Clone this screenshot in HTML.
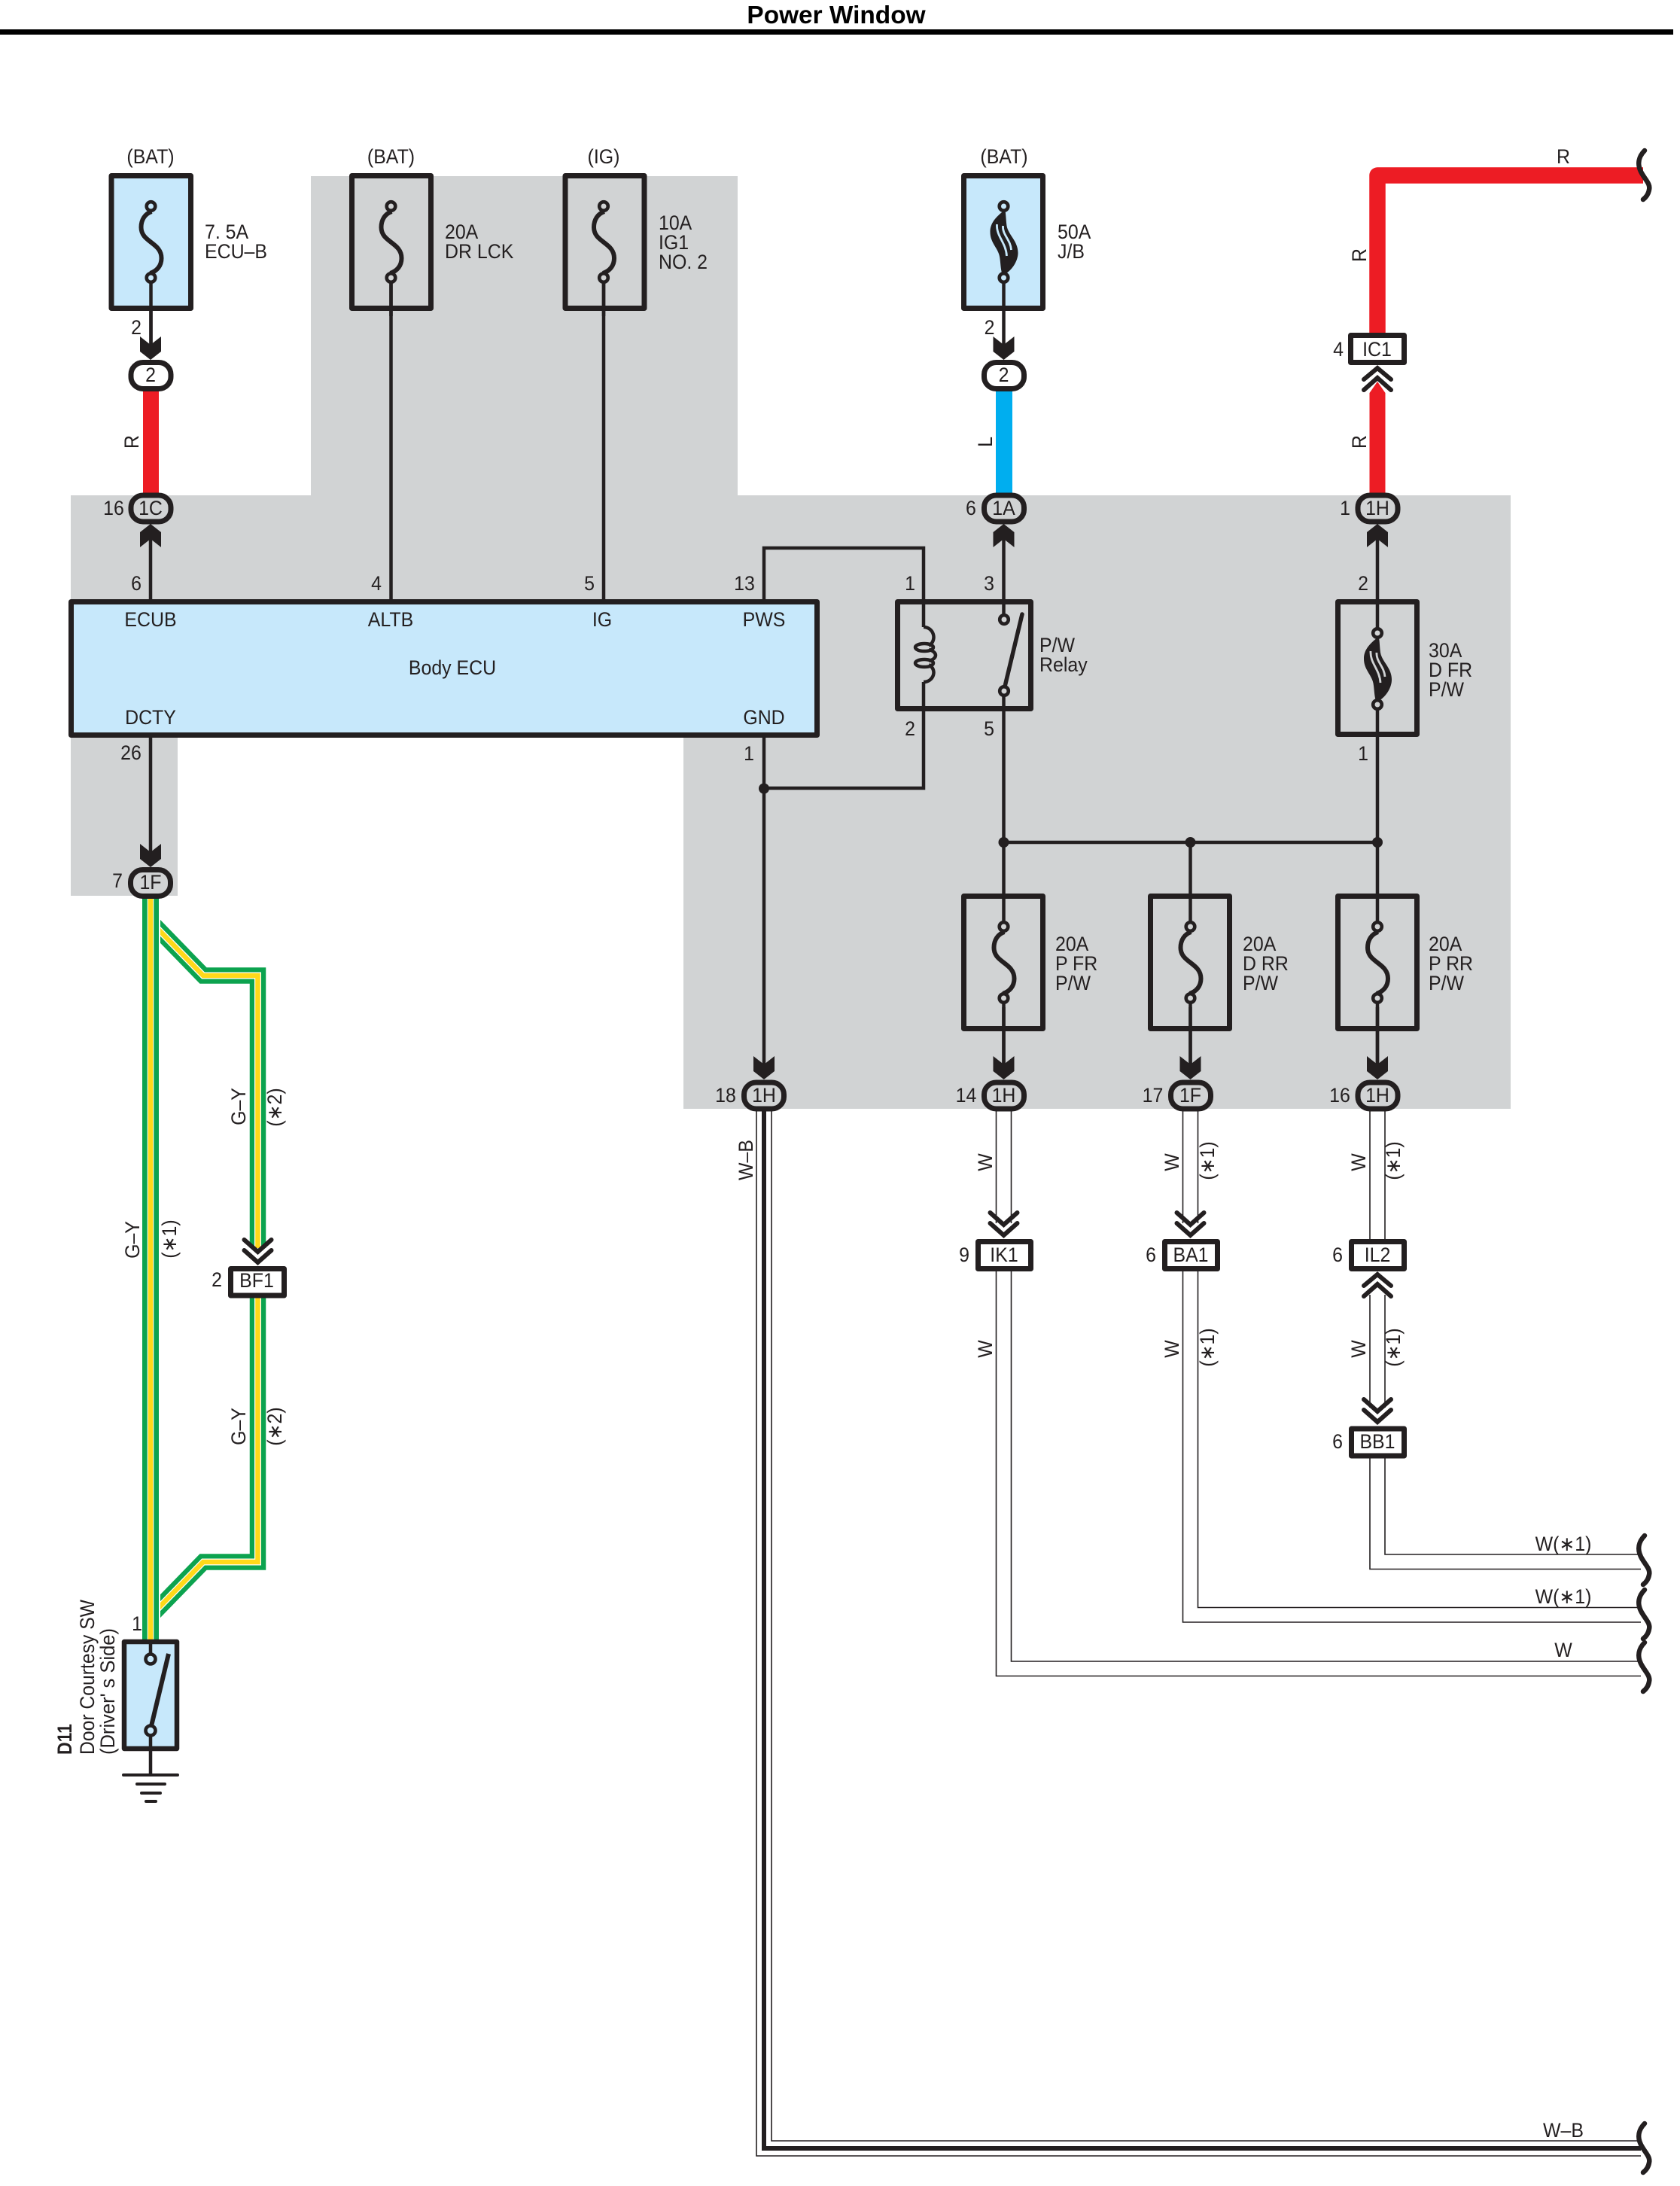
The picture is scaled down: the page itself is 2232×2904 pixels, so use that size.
<!DOCTYPE html>
<html><head><meta charset="utf-8"><title>Power Window</title>
<style>
html,body{margin:0;padding:0;background:#fff}
svg{display:block}
text{font-family:"Liberation Sans",sans-serif;font-size:26.5px;fill:#231f20;transform-box:fill-box;transform-origin:center;transform:scaleX(.94)}
text.s{transform-origin:left center}
text.n{transform:none}
.m{text-anchor:middle}
.w{fill:none;stroke:#231f20;stroke-width:4.5}
.t{fill:none;stroke:#231f20;stroke-width:1.6}
.b{stroke:#231f20;stroke-width:7;stroke-linejoin:round}
</style></head><body>
<svg xmlns="http://www.w3.org/2000/svg" width="2232" height="2904" viewBox="0 0 2232 2904">
<defs>
<g id="fuse"><path d="M1,7C-8,10 -13,18 -13,28C-13,48 14,48 14,69C14,79 8,86 -1,89" fill="none" stroke="#231f20" stroke-width="6"/><circle r="5.8" stroke="#231f20" stroke-width="4.6"/><circle cy="95" r="5.8" stroke="#231f20" stroke-width="4.6"/></g>
<g id="hfuse"><path fill="#231f20" stroke="none" d="M0,6C-10,14 -18,22 -18,34C-18,50 -6,56 -5,70C-4,78 -4,84 -2,90L2,90C12,84 19,72 19,62C19,46 6,38 4,26C3,18 3,12 2,6Z"/><path fill="none" stroke-width="2.8" d="M-9,24C-10,40 3,48 4,66M-1,26C-2,38 9,44 10,58"/><circle r="5.8" stroke="#231f20" stroke-width="4.6"/><circle cy="95" r="5.8" stroke="#231f20" stroke-width="4.6"/></g>
<polygon id="ad" fill="#231f20" points="0,0 -14,-11 -14,-31 0,-20 14,-31 14,-11"/>
<polygon id="au" fill="#231f20" points="0,0 -14,11 -14,31 0,20 14,31 14,11"/>
<g id="cd" fill="none" stroke="#231f20" stroke-width="6" stroke-linecap="round"><path d="M-18,-35L0,-19L18,-35"/><path d="M-18,-21L0,-5L18,-21"/></g>
<g id="cu" fill="none" stroke="#231f20" stroke-width="6" stroke-linecap="round"><path d="M-18,33L0,17L18,33"/><path d="M-18,19L0,4L18,19"/></g>
<path id="sq" d="M3,0C-5,8 -7,18 -2,28C3,38 11,44 9,52C8,58 5,62 1,65" fill="none" stroke="#231f20" stroke-width="6.5" stroke-linecap="round"/>
</defs>

<!-- title -->
<text x="1111" y="31" class="m n" style="font-size:33.4px;font-weight:bold;fill:#000">Power Window</text>
<rect x="0" y="39" width="2223" height="7" fill="#000"/>

<!-- gray region -->
<path d="M413,234H980V658H2007V1473H908V980H236V1190H94V658H413Z" fill="#d1d3d4"/>

<!-- colored wires -->
<rect x="190" y="515" width="21" height="142" fill="#ed1c24"/>
<rect x="1323" y="515" width="22" height="142" fill="#00aeef"/>
<path d="M1830,445V233H2183" fill="none" stroke="#ed1c24" stroke-width="21.5" stroke-linejoin="round"/>
<path d="M1819.5,657V522L1830,507L1840.5,522V657Z" fill="#ed1c24"/>

<!-- green branches -->
<g fill="none" stroke-linejoin="miter">
<path d="M200,1224L270,1296H342.5V1658" stroke="#0ca34f" stroke-width="21.5"/>
<path d="M200,1224L270,1296H342.5V1658" stroke="#fff" stroke-width="9"/>
<path d="M200,1224L270,1296H342.5V1658" stroke="#ffd91a" stroke-width="6.5"/>
<path d="M200,2147L270,2075H342.5V1722" stroke="#0ca34f" stroke-width="21.5"/>
<path d="M200,2147L270,2075H342.5V1722" stroke="#fff" stroke-width="9"/>
<path d="M200,2147L270,2075H342.5V1722" stroke="#ffd91a" stroke-width="6.5"/>
</g>
<rect x="209" y="1200" width="4" height="970" fill="#fff"/>
<rect x="189" y="1190" width="22" height="990" fill="#0ca34f"/>
<rect x="195.7" y="1190" width="8.6" height="990" fill="#fff"/>
<rect x="196.7" y="1190" width="6.6" height="990" fill="#ffd91a"/>

<!-- W wire pairs -->
<path class="t" d="M1323.5,1475V1625M1343.5,1475V1625M1323.5,1688V2226.5H2180M1343.5,1688V2207H2180"/>
<path class="t" d="M1571.5,1475V1625M1591.5,1475V1625M1571.5,1688V2155H2180M1591.5,1688V2135.5H2180"/>
<path class="t" d="M1820,1475V1646M1840,1475V1646M1820,1720V1870M1840,1720V1870M1820,1937V2084.5H2180M1840,1937V2065H2180"/>
<!-- W-B -->
<path class="t" d="M1005,1475V2864H2180M1025,1475V2844H2180"/>
<path d="M1015,1475V2854H2180" fill="none" stroke="#231f20" stroke-width="6"/>

<!-- squiggles -->
<use href="#sq" x="2182" y="200"/><use href="#sq" x="2182" y="2040"/><use href="#sq" x="2182" y="2112"/><use href="#sq" x="2182" y="2182"/><use href="#sq" x="2182" y="2821"/>

<!-- black wires -->
<path class="w" d="M200.5,376V465M200,700V796M200,980V1140M519.5,376V796M802,376V796"/>
<path class="w" d="M1015,796V728H1227V833M1227,906V1047H1015M1015,980V1420"/>
<path class="w" d="M1333.5,700V816M1333.5,925V1224M1333.5,1333V1420M1333.5,1119H1830M1581.5,1119V1224M1581.5,1333V1420"/>
<path class="w" d="M1830,700V834M1830,943V1224M1830,1333V1420"/>
<circle cx="1015" cy="1047.5" r="7" fill="#231f20"/><circle cx="1333.5" cy="1119" r="7" fill="#231f20"/><circle cx="1581.5" cy="1119" r="7" fill="#231f20"/><circle cx="1830" cy="1119" r="7" fill="#231f20"/>

<!-- fuses top -->
<rect class="b" x="148" y="233.5" width="105.5" height="176" fill="#c7e8fb"/>
<rect class="b" x="467.5" y="233.5" width="105" height="176" fill="none"/>
<rect class="b" x="751" y="233.5" width="105" height="176" fill="none"/>
<rect class="b" x="1280.5" y="233.5" width="105" height="176" fill="#c7e8fb"/>
<use href="#fuse" x="200.5" y="274" fill="#c7e8fb"/>
<use href="#fuse" x="519.5" y="274" fill="#d1d3d4"/>
<use href="#fuse" x="802" y="274" fill="#d1d3d4"/>
<use href="#hfuse" x="1333.5" y="274" fill="#c7e8fb" stroke="#c7e8fb"/>
<path class="w" d="M200.5,376V465M519.5,376V420M802,376V420M1333.5,376V465"/>

<!-- ECU -->
<rect class="b" x="94.5" y="799.5" width="991" height="177" fill="#c7e8fb"/>
<!-- relay -->
<rect class="b" x="1192.5" y="799.5" width="177" height="142" fill="none"/>
<g fill="none" stroke="#231f20" stroke-width="4.5">
<path d="M1227,833C1240,833 1246,850 1234,858M1234,863C1246,866 1246,875 1234,878M1234,883C1246,890 1240,906 1227,906"/>
<ellipse cx="1228" cy="860" rx="12" ry="5"/><ellipse cx="1228" cy="881" rx="12" ry="5"/>
</g>
<circle cx="1334" cy="823" r="5.8" fill="#d1d3d4" stroke="#231f20" stroke-width="4.6"/>
<circle cx="1334" cy="918" r="5.8" fill="#d1d3d4" stroke="#231f20" stroke-width="4.6"/>
<path d="M1358,816L1335,912" stroke="#231f20" stroke-width="5.5" stroke-linecap="round" fill="none"/>
<!-- 30A -->
<rect class="b" x="1777.5" y="799.5" width="105" height="176" fill="none"/>
<use href="#hfuse" x="1830" y="841" fill="#d1d3d4" stroke="#d1d3d4"/>
<!-- lower fuses -->
<rect class="b" x="1280.5" y="1190.5" width="105" height="176" fill="none"/>
<rect class="b" x="1528.5" y="1190.5" width="105" height="176" fill="none"/>
<rect class="b" x="1777.5" y="1190.5" width="105" height="176" fill="none"/>
<use href="#fuse" x="1333.5" y="1231" fill="#d1d3d4"/>
<use href="#fuse" x="1581.5" y="1231" fill="#d1d3d4"/>
<use href="#fuse" x="1830" y="1231" fill="#d1d3d4"/>
<path class="w" d="M1333.5,1338V1420M1581.5,1338V1420M1830,1338V1420"/>

<!-- arrows -->
<use href="#ad" x="200" y="478"/><use href="#ad" x="1333.5" y="478"/>
<use href="#au" x="200" y="696"/><use href="#au" x="1333.5" y="696"/><use href="#au" x="1830" y="696"/>
<use href="#ad" x="200" y="1152"/>
<use href="#ad" x="1015" y="1434"/><use href="#ad" x="1333.5" y="1434"/><use href="#ad" x="1581.5" y="1434"/><use href="#ad" x="1830" y="1434"/>

<!-- round connectors -->
<g fill="#fff" stroke="#231f20" stroke-width="7">
<rect x="174" y="481.5" width="53" height="35" rx="16"/>
<rect x="1307.5" y="481.5" width="53" height="35" rx="16"/>
</g>
<g fill="#d1d3d4" stroke="#231f20" stroke-width="7">
<rect x="174" y="658" width="53" height="35" rx="16"/>
<rect x="1307.5" y="658" width="53" height="35" rx="16"/>
<rect x="1804" y="658" width="53" height="35" rx="16"/>
<rect x="173.5" y="1155.5" width="53" height="35" rx="16"/>
<rect x="988.5" y="1438" width="53" height="35" rx="16"/>
<rect x="1307.5" y="1438" width="53" height="35" rx="16"/>
<rect x="1555.5" y="1438" width="53" height="35" rx="16"/>
<rect x="1804" y="1438" width="53" height="35" rx="16"/>
</g>

<!-- box connectors -->
<g fill="#fff" stroke="#231f20" stroke-width="7" stroke-linejoin="round">
<rect x="1794.5" y="445.5" width="71" height="36"/>
<rect x="306.5" y="1685.5" width="71" height="35.5"/>
<rect x="1299.5" y="1649.5" width="70" height="36"/>
<rect x="1547.5" y="1649.5" width="70" height="36"/>
<rect x="1795.5" y="1649.5" width="70" height="36"/>
<rect x="1795.5" y="1898" width="70" height="36"/>
</g>
<use href="#cu" x="1830" y="485"/>
<use href="#cd" x="342.5" y="1682"/>
<use href="#cd" x="1333.5" y="1646"/><use href="#cd" x="1581.5" y="1646"/>
<use href="#cu" x="1830" y="1689"/><use href="#cd" x="1830" y="1894"/>

<!-- switch -->
<rect x="165" y="2181" width="70" height="142" fill="#c7e8fb" stroke="#231f20" stroke-width="6.5" stroke-linejoin="round"/>
<path class="w" d="M200,2181V2197M200,2306V2358"/>
<circle cx="200" cy="2204" r="6.5" fill="#c7e8fb" stroke="#231f20" stroke-width="4.6"/>
<circle cx="200" cy="2299" r="6.5" fill="#c7e8fb" stroke="#231f20" stroke-width="4.6"/>
<path d="M224,2197L201,2293" stroke="#231f20" stroke-width="6" fill="none"/>
<g stroke="#231f20" stroke-width="4" stroke-linecap="round"><path d="M164,2358H236M182,2370H219M188,2382H213M194,2393H207"/></g>

<!-- labels top -->
<text x="200" y="217" class="m">(BAT)</text><text x="519.5" y="217" class="m">(BAT)</text><text x="802" y="217" class="m">(IG)</text><text x="1334" y="217" class="m">(BAT)</text>
<text x="272" y="317" class="s">7. 5A</text><text x="272" y="343" class="s">ECU–B</text>
<text x="591" y="317" class="s">20A</text><text x="591" y="343" class="s">DR LCK</text>
<text x="875" y="305" class="s">10A</text><text x="875" y="331" class="s">IG1</text><text x="875" y="357" class="s">NO. 2</text>
<text x="1405" y="317" class="s">50A</text><text x="1405" y="343" class="s">J/B</text>
<text x="2077" y="217" class="m">R</text>

<!-- connector text -->
<text x="200" y="507" class="m">2</text><text x="1333.5" y="507" class="m">2</text>
<text x="200" y="684" class="m">1C</text><text x="1333.5" y="684" class="m">1A</text><text x="1830" y="684" class="m">1H</text>
<text x="200" y="1181" class="m">1F</text>
<text x="1015" y="1464" class="m">1H</text><text x="1333.5" y="1464" class="m">1H</text><text x="1581.5" y="1464" class="m">1F</text><text x="1830" y="1464" class="m">1H</text>
<text x="1829.5" y="473" class="m">IC1</text>
<text x="341" y="1710" class="m">BF1</text>
<text x="1334" y="1676" class="m">IK1</text><text x="1582" y="1676" class="m">BA1</text><text x="1830" y="1676" class="m">IL2</text><text x="1830" y="1924" class="m">BB1</text>

<!-- pin numbers -->
<g>
<text class="m" x="181" y="444">2</text><text class="m" x="1314.5" y="444">2</text>
<text class="m" x="151" y="684">16</text><text class="m" x="1290" y="684">6</text><text class="m" x="1787" y="684">1</text><text class="m" x="1778" y="473">4</text>
<text class="m" x="181" y="784">6</text><text class="m" x="500" y="784">4</text><text class="m" x="783" y="784">5</text><text class="m" x="989" y="784">13</text><text class="m" x="1209" y="784">1</text><text class="m" x="1314" y="784">3</text><text class="m" x="1811" y="784">2</text>
<text class="m" x="1209" y="977">2</text><text class="m" x="1314" y="977">5</text>
<text class="m" x="174" y="1009">26</text><text class="m" x="995" y="1010">1</text><text class="m" x="1811" y="1010">1</text>
<text class="m" x="156" y="1179">7</text>
<text class="m" x="964" y="1464">18</text><text class="m" x="1283.5" y="1464">14</text><text class="m" x="1531.5" y="1464">17</text><text class="m" x="1780" y="1464">16</text>
<text class="m" x="1281" y="1676">9</text><text class="m" x="1529" y="1676">6</text><text class="m" x="1777" y="1676">6</text><text class="m" x="1777" y="1924">6</text><text class="m" x="288" y="1709">2</text>
<text class="m" x="182" y="2166">1</text>
</g>

<!-- ECU labels -->
<text x="200" y="832" class="m">ECUB</text><text x="519" y="832" class="m">ALTB</text><text x="800" y="832" class="m">IG</text><text x="1015" y="832" class="m">PWS</text>
<text x="601" y="896" class="m">Body ECU</text>
<text x="200" y="962" class="m">DCTY</text><text x="1015" y="962" class="m">GND</text>

<!-- side labels -->
<text x="1381" y="866" class="s">P/W</text><text x="1381" y="892" class="s">Relay</text>
<text x="1898" y="873" class="s">30A</text><text x="1898" y="899" class="s">D FR</text><text x="1898" y="925" class="s">P/W</text>
<text x="1402" y="1263" class="s">20A</text><text x="1402" y="1289" class="s">P FR</text><text x="1402" y="1315" class="s">P/W</text>
<text x="1651" y="1263" class="s">20A</text><text x="1651" y="1289" class="s">D RR</text><text x="1651" y="1315" class="s">P/W</text>
<text x="1898" y="1263" class="s">20A</text><text x="1898" y="1289" class="s">P RR</text><text x="1898" y="1315" class="s">P/W</text>

<!-- horizontal wire labels -->
<text x="2077" y="2060" class="m">W(∗1)</text><text x="2077" y="2130" class="m">W(∗1)</text><text x="2077" y="2201" class="m">W</text><text x="2077" y="2839" class="m">W–B</text>

<!-- rotated labels -->
<g transform="translate(184,587) rotate(-90)"><text class="m">R</text></g>
<g transform="translate(1318,587) rotate(-90)"><text class="m">L</text></g>
<g transform="translate(1815,339) rotate(-90)"><text class="m">R</text></g>
<g transform="translate(1815,587) rotate(-90)"><text class="m">R</text></g>
<g transform="translate(185,1647) rotate(-90)"><text class="m">G–Y</text></g>
<g transform="translate(234,1646) rotate(-90)"><text class="m">(∗1)</text></g>
<g transform="translate(326,1470) rotate(-90)"><text class="m">G–Y</text></g>
<g transform="translate(374,1471) rotate(-90)"><text class="m">(∗2)</text></g>
<g transform="translate(326,1895) rotate(-90)"><text class="m">G–Y</text></g>
<g transform="translate(374,1895) rotate(-90)"><text class="m">(∗2)</text></g>
<g transform="translate(1000,1541) rotate(-90)"><text class="m">W–B</text></g>
<g transform="translate(1318,1544) rotate(-90)"><text class="m">W</text></g>
<g transform="translate(1318,1792) rotate(-90)"><text class="m">W</text></g>
<g transform="translate(1566,1544) rotate(-90)"><text class="m">W</text></g>
<g transform="translate(1566,1792) rotate(-90)"><text class="m">W</text></g>
<g transform="translate(1814,1544) rotate(-90)"><text class="m">W</text></g>
<g transform="translate(1814,1792) rotate(-90)"><text class="m">W</text></g>
<g transform="translate(1613,1542) rotate(-90)"><text class="m">(∗1)</text></g>
<g transform="translate(1613,1790) rotate(-90)"><text class="m">(∗1)</text></g>
<g transform="translate(1860,1542) rotate(-90)"><text class="m">(∗1)</text></g>
<g transform="translate(1860,1790) rotate(-90)"><text class="m">(∗1)</text></g>
<g transform="translate(95,2331) rotate(-90)"><text class="n" style="font-weight:bold;font-size:27px" textLength="41" lengthAdjust="spacingAndGlyphs">D11</text></g>
<g transform="translate(125,2331) rotate(-90)"><text class="n" textLength="206" lengthAdjust="spacingAndGlyphs">Door Courtesy SW</text></g>
<g transform="translate(152,2331) rotate(-90)"><text class="n" textLength="168" lengthAdjust="spacingAndGlyphs">(Driver' s Side)</text></g>
</svg>
</body></html>
